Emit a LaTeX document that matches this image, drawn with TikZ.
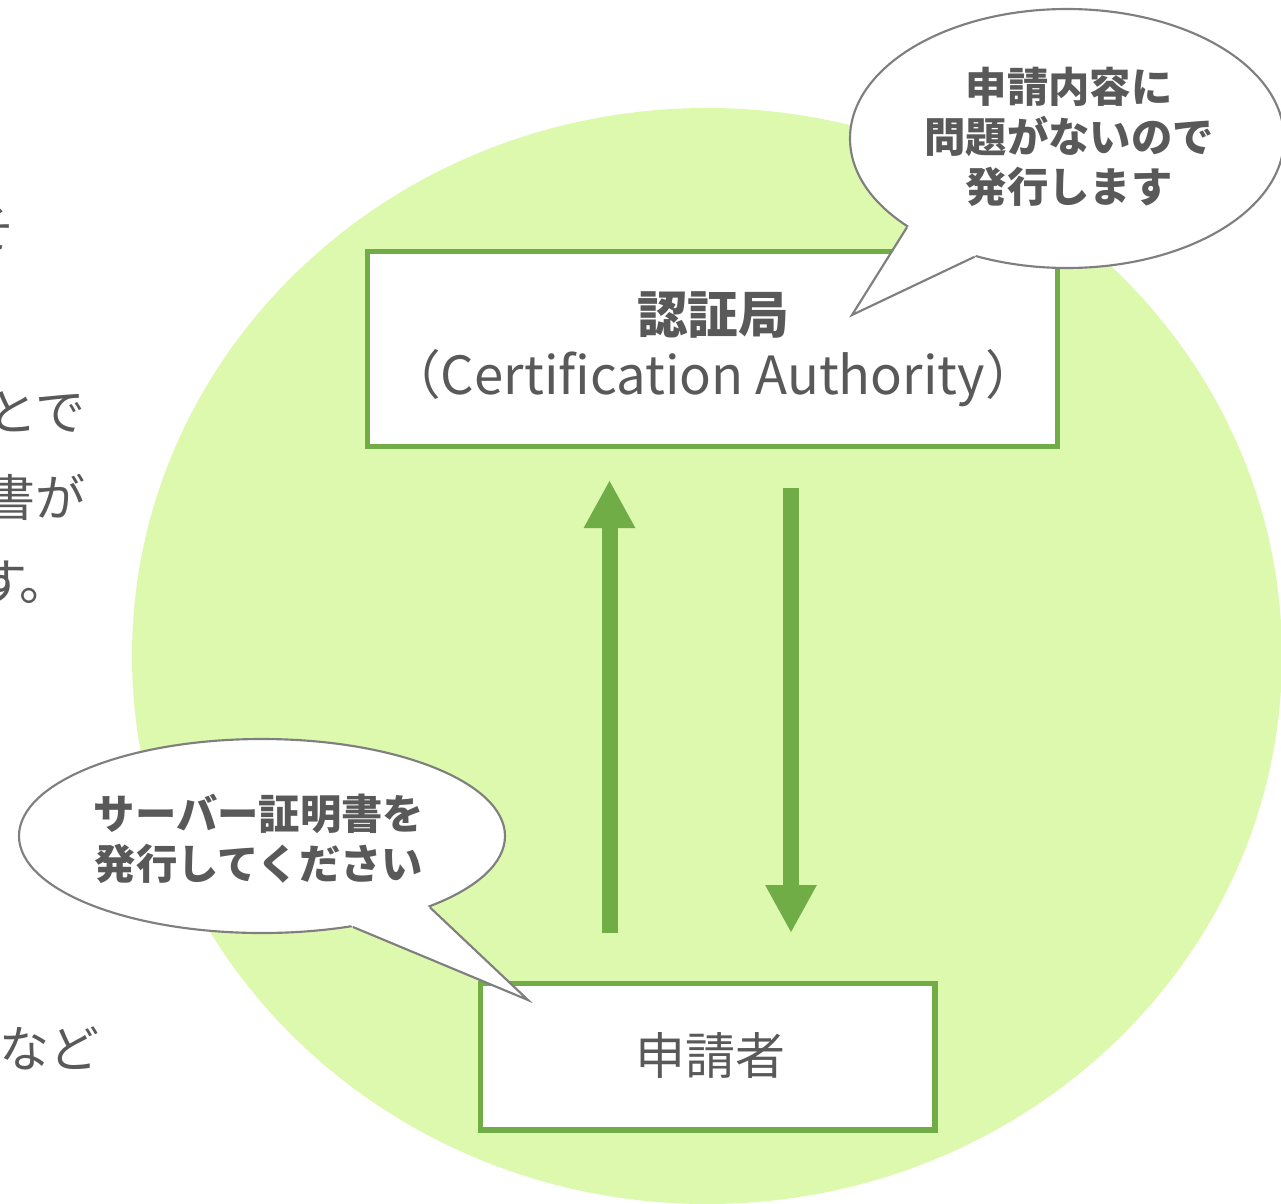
\documentclass[tikz,border=0pt]{standalone}
\usepackage{fontspec}
\setmainfont{Noto Sans CJK JP}
\usetikzlibrary{arrows.meta,shapes.geometric,calc}
\definecolor{bgGreen}{HTML}{DDF9AD}
\definecolor{boxGreen}{HTML}{70AD47}
\definecolor{txtGray}{HTML}{595959}
\definecolor{lineGray}{HTML}{7F7F7F}
\begin{document}
\begin{tikzpicture}[x=0.75pt,y=-0.75pt,
  box/.style={draw=boxGreen,line width=4.1pt,fill=white,inner sep=0pt},
  bubble/.style={ellipse,draw=lineGray,line width=1.6pt,fill=white,inner sep=0pt},
  tailline/.style={draw=lineGray,line width=1.6pt,line join=miter},
  bigarrow/.style={draw=boxGreen,line width=12pt,-{Triangle[width=36pt,length=36pt]}},
  lbl/.style={text=txtGray,inner sep=0pt},
  bigtext/.style={lbl,font=\fontsize{37.5}{45}\selectfont},
  bubtext/.style={lbl,align=center,font=\bfseries\fontsize{31}{37.5}\selectfont}
]
\useasboundingbox (0,0) rectangle (1281,1203);
\clip (0,0) rectangle (1281,1203);
% background disc
\fill[bgGreen] (707,656) ellipse [x radius=431.25pt, y radius=411pt];
% cut-off text on the left
\node[bigtext,anchor=east] (l1) at (16,230) {そ};
\node[bigtext,anchor=east] (l2) at (86,412) {とで};
\node[bigtext,anchor=east] (l3) at (86,497) {書が};
\node[bigtext,anchor=east] (l4) at (70,582) {す\kern-6pt 。};
\node[bigtext,anchor=east] (l5) at (100,1048) {など};
% boxes
\node[box,minimum width=517.5pt,minimum height=146.25pt] (ca) at (712.5,349) {};
\node[lbl,font=\bfseries\fontsize{38}{45}\selectfont] (catitle) at (713,315) {認証局};
\node[lbl,font=\fontsize{39.5}{46}\selectfont] (casub) at (713,378) {（Certification Authority）};
\node[box,minimum width=340.9pt,minimum height=109.9pt] (app) at (707.75,1056.75) {};
\node[bigtext] (apptext) at (710,1055) {申請者};
% arrows
\coordinate (upS) at (609.5,933);
\coordinate (upE) at (609.5,480);
\coordinate (dnS) at (791,488);
\coordinate (dnE) at (791,933);
\draw[bigarrow] (upS) -- (upE);
\draw[bigarrow] (dnS) -- (dnE);
% bottom-left bubble
\node[bubble,minimum width=364.5pt,minimum height=145.5pt] (b2) at (262,836) {};
\coordinate (b2tip) at (528,1000);
\fill[white] (b2.337.6) -- (b2tip) -- (b2.315.6) -- ($(b2.315.6)!0.06!(b2.center)$) -- ($(b2.337.6)!0.06!(b2.center)$) -- cycle;
\draw[tailline] (b2.337.6) -- (b2tip) -- (b2.315.6);
\node[bubtext] (b2t) at (259,839) {サーバー証明書を\\発行してください};
% top-right bubble
\node[bubble,minimum width=325.5pt,minimum height=194.25pt] (b1) at (1067,138.5) {};
\coordinate (b1tip) at (852,315);
\fill[white] (b1.209.7) -- (b1tip) -- (b1.232.8) -- ($(b1.232.8)!0.06!(b1.center)$) -- ($(b1.209.7)!0.06!(b1.center)$) -- cycle;
\draw[tailline] (b1.209.7) -- (b1tip) -- (b1.232.8);
\node[bubtext] (b1t) at (1069,137) {申請内容に\\問題がないので\\発行します};
\end{tikzpicture}
\end{document}
